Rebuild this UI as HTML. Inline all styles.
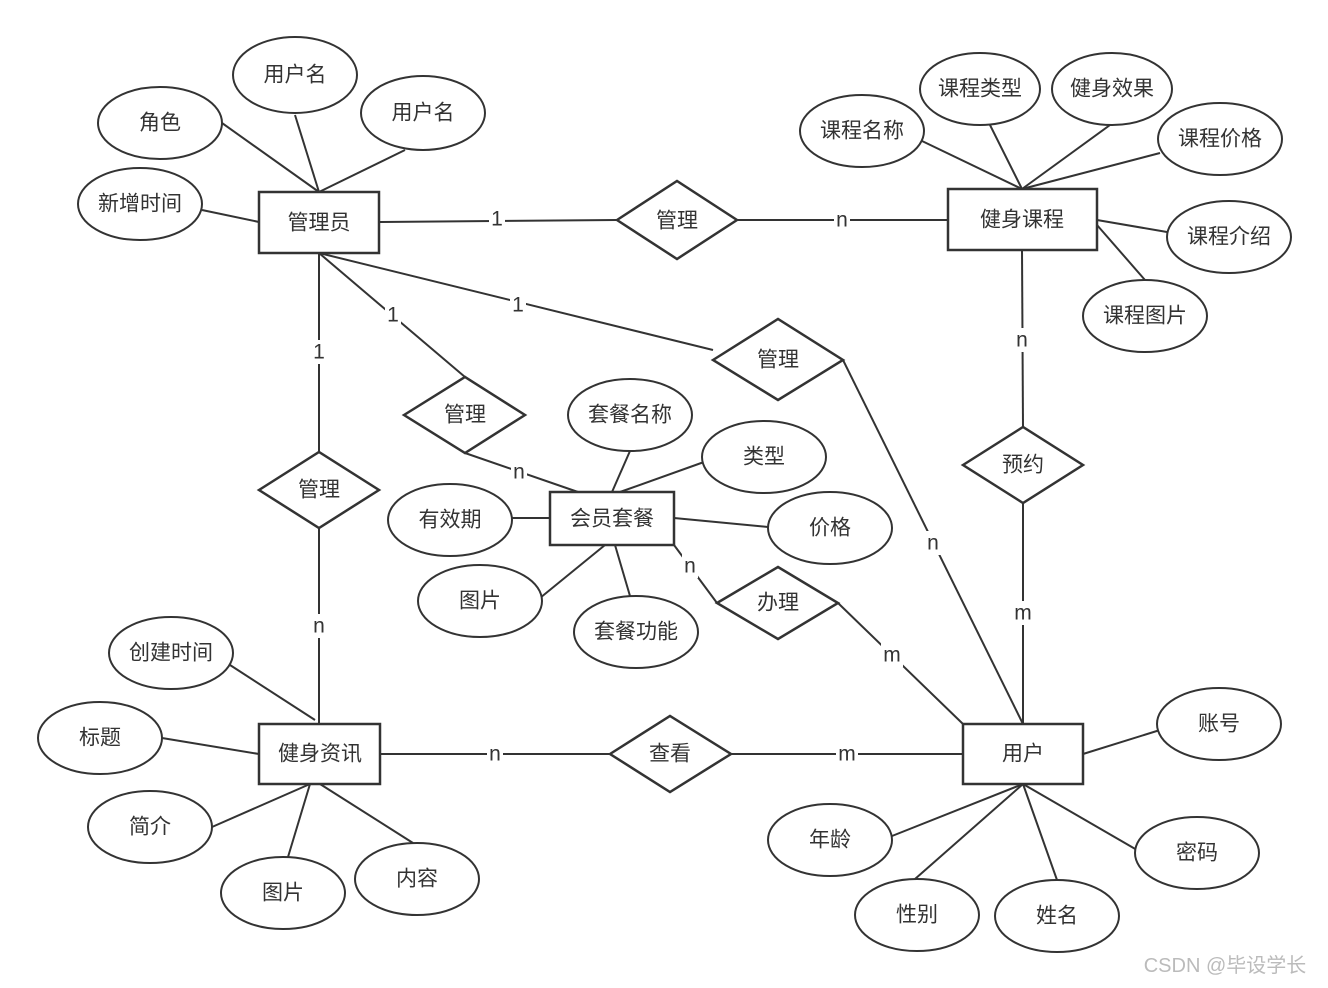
<!DOCTYPE html>
<html><head><meta charset="utf-8"><style>
html,body{margin:0;padding:0;background:#fff;}
svg{display:block;}
text{font-family:"Liberation Sans","Noto Sans CJK SC",sans-serif;font-size:21px;fill:#333;text-anchor:middle;dominant-baseline:central;}
.l{stroke:#333;stroke-width:2;fill:none;}
.s{fill:#fff;stroke:#333;stroke-width:2;}
.b{fill:#fff;stroke:#333;stroke-width:2.5;}
</style></head><body>
<svg width="1328" height="988" viewBox="0 0 1328 988">
<g class="l">
<!-- attribute lines -->
<line x1="222" y1="123" x2="319" y2="192"/>
<line x1="295" y1="115" x2="319" y2="192"/>
<line x1="405" y1="150" x2="319" y2="192"/>
<line x1="202" y1="210" x2="259" y2="222"/>
<line x1="922" y1="141" x2="1022" y2="189"/>
<line x1="990" y1="125" x2="1022" y2="189"/>
<line x1="1110" y1="125" x2="1022" y2="189"/>
<line x1="1160" y1="153" x2="1022" y2="189"/>
<line x1="1167" y1="232" x2="1097" y2="220"/>
<line x1="1145" y1="280" x2="1097" y2="225"/>
<line x1="630" y1="451" x2="612" y2="492"/>
<line x1="704" y1="462" x2="620" y2="492"/>
<line x1="512" y1="518" x2="550" y2="518"/>
<line x1="768" y1="527" x2="674" y2="518"/>
<line x1="540" y1="598" x2="605" y2="545"/>
<line x1="630" y1="596" x2="615" y2="545"/>
<line x1="230" y1="665" x2="315" y2="720"/>
<line x1="162" y1="738" x2="259" y2="754"/>
<line x1="212" y1="827" x2="310" y2="784"/>
<line x1="288" y1="857" x2="310" y2="784"/>
<line x1="413" y1="843" x2="320" y2="784"/>
<line x1="1160" y1="730" x2="1083" y2="754"/>
<line x1="892" y1="836" x2="1023" y2="784"/>
<line x1="1137" y1="850" x2="1023" y2="784"/>
<line x1="915" y1="879" x2="1023" y2="784"/>
<line x1="1057" y1="880" x2="1023" y2="784"/>
<!-- relationship lines -->
<line x1="379" y1="222" x2="617" y2="220"/>
<line x1="737" y1="220" x2="948" y2="220"/>
<line x1="319" y1="253" x2="319" y2="452"/>
<line x1="319" y1="528" x2="319" y2="724"/>
<line x1="319" y1="253" x2="465" y2="377"/>
<line x1="465" y1="453" x2="578" y2="492"/>
<line x1="319" y1="253" x2="713" y2="350"/>
<line x1="843" y1="360" x2="1023" y2="724"/>
<line x1="1022" y1="250" x2="1023" y2="427"/>
<line x1="1023" y1="503" x2="1023" y2="724"/>
<line x1="674" y1="545" x2="717" y2="603"/>
<line x1="838" y1="603" x2="963" y2="724"/>
<line x1="380" y1="754" x2="610" y2="754"/>
<line x1="731" y1="754" x2="963" y2="754"/>
</g>
<!-- line labels -->
<g>
<rect x="489" y="208" width="16" height="24" fill="#fff"/><text x="497" y="219">1</text>
<rect x="834" y="208" width="16" height="24" fill="#fff"/><text x="842" y="220">n</text>
<rect x="311" y="340" width="16" height="24" fill="#fff"/><text x="319" y="352">1</text>
<rect x="311" y="614" width="16" height="24" fill="#fff"/><text x="319" y="626">n</text>
<rect x="385" y="303" width="16" height="24" fill="#fff"/><text x="393" y="315">1</text>
<rect x="511" y="460" width="16" height="24" fill="#fff"/><text x="519" y="472">n</text>
<rect x="510" y="293" width="16" height="24" fill="#fff"/><text x="518" y="305">1</text>
<rect x="925" y="531" width="16" height="24" fill="#fff"/><text x="933" y="543">n</text>
<rect x="1014" y="328" width="16" height="24" fill="#fff"/><text x="1022" y="340">n</text>
<rect x="1012" y="601" width="22" height="24" fill="#fff"/><text x="1023" y="613">m</text>
<rect x="682" y="554" width="16" height="24" fill="#fff"/><text x="690" y="566">n</text>
<rect x="881" y="643" width="22" height="24" fill="#fff"/><text x="892" y="655">m</text>
<rect x="487" y="742" width="16" height="24" fill="#fff"/><text x="495" y="754">n</text>
<rect x="836" y="742" width="22" height="24" fill="#fff"/><text x="847" y="754">m</text>
</g>
<!-- entities -->
<rect class="b" x="259" y="192" width="120" height="61"/><text x="319" y="223">管理员</text>
<rect class="b" x="948" y="189" width="149" height="61"/><text x="1022" y="220">健身课程</text>
<rect class="b" x="550" y="492" width="124" height="53"/><text x="612" y="519">会员套餐</text>
<rect class="b" x="259" y="724" width="121" height="60"/><text x="320" y="754">健身资讯</text>
<rect class="b" x="963" y="724" width="120" height="60"/><text x="1023" y="754">用户</text>
<!-- diamonds -->
<polygon class="b" points="617,220 677,181 737,220 677,259"/><text x="677" y="221">管理</text>
<polygon class="b" points="713,360 778,319 843,360 778,400"/><text x="778" y="360">管理</text>
<polygon class="b" points="404,415 465,377 525,415 465,453"/><text x="465" y="415">管理</text>
<polygon class="b" points="259,490 319,452 379,490 319,528"/><text x="319" y="490">管理</text>
<polygon class="b" points="963,465 1023,427 1083,465 1023,503"/><text x="1023" y="465">预约</text>
<polygon class="b" points="717,603 778,567 838,603 778,639"/><text x="778" y="603">办理</text>
<polygon class="b" points="610,754 670,716 731,754 670,792"/><text x="670" y="754">查看</text>
<!-- ellipses -->
<g>
<ellipse class="s" cx="295" cy="75" rx="62" ry="38"/><text x="295" y="75">用户名</text>
<ellipse class="s" cx="423" cy="113" rx="62" ry="37"/><text x="423" y="113">用户名</text>
<ellipse class="s" cx="160" cy="123" rx="62" ry="36"/><text x="160" y="123">角色</text>
<ellipse class="s" cx="140" cy="204" rx="62" ry="36"/><text x="140" y="204">新增时间</text>
<ellipse class="s" cx="980" cy="89" rx="60" ry="36"/><text x="980" y="89">课程类型</text>
<ellipse class="s" cx="1112" cy="89" rx="60" ry="36"/><text x="1112" y="89">健身效果</text>
<ellipse class="s" cx="862" cy="131" rx="62" ry="36"/><text x="862" y="131">课程名称</text>
<ellipse class="s" cx="1220" cy="139" rx="62" ry="36"/><text x="1220" y="139">课程价格</text>
<ellipse class="s" cx="1229" cy="237" rx="62" ry="36"/><text x="1229" y="237">课程介绍</text>
<ellipse class="s" cx="1145" cy="316" rx="62" ry="36"/><text x="1145" y="316">课程图片</text>
<ellipse class="s" cx="630" cy="415" rx="62" ry="36"/><text x="630" y="415">套餐名称</text>
<ellipse class="s" cx="764" cy="457" rx="62" ry="36"/><text x="764" y="457">类型</text>
<ellipse class="s" cx="450" cy="520" rx="62" ry="36"/><text x="450" y="520">有效期</text>
<ellipse class="s" cx="830" cy="528" rx="62" ry="36"/><text x="830" y="528">价格</text>
<ellipse class="s" cx="480" cy="601" rx="62" ry="36"/><text x="480" y="601">图片</text>
<ellipse class="s" cx="636" cy="632" rx="62" ry="36"/><text x="636" y="632">套餐功能</text>
<ellipse class="s" cx="171" cy="653" rx="62" ry="36"/><text x="171" y="653">创建时间</text>
<ellipse class="s" cx="100" cy="738" rx="62" ry="36"/><text x="100" y="738">标题</text>
<ellipse class="s" cx="150" cy="827" rx="62" ry="36"/><text x="150" y="827">简介</text>
<ellipse class="s" cx="283" cy="893" rx="62" ry="36"/><text x="283" y="893">图片</text>
<ellipse class="s" cx="417" cy="879" rx="62" ry="36"/><text x="417" y="879">内容</text>
<ellipse class="s" cx="1219" cy="724" rx="62" ry="36"/><text x="1219" y="724">账号</text>
<ellipse class="s" cx="830" cy="840" rx="62" ry="36"/><text x="830" y="840">年龄</text>
<ellipse class="s" cx="1197" cy="853" rx="62" ry="36"/><text x="1197" y="853">密码</text>
<ellipse class="s" cx="917" cy="915" rx="62" ry="36"/><text x="917" y="915">性别</text>
<ellipse class="s" cx="1057" cy="916" rx="62" ry="36"/><text x="1057" y="916">姓名</text>
</g>
<text x="1225" y="966" style="font-size:20px;fill:#bbb">CSDN @毕设学长</text>
</svg>
</body></html>
